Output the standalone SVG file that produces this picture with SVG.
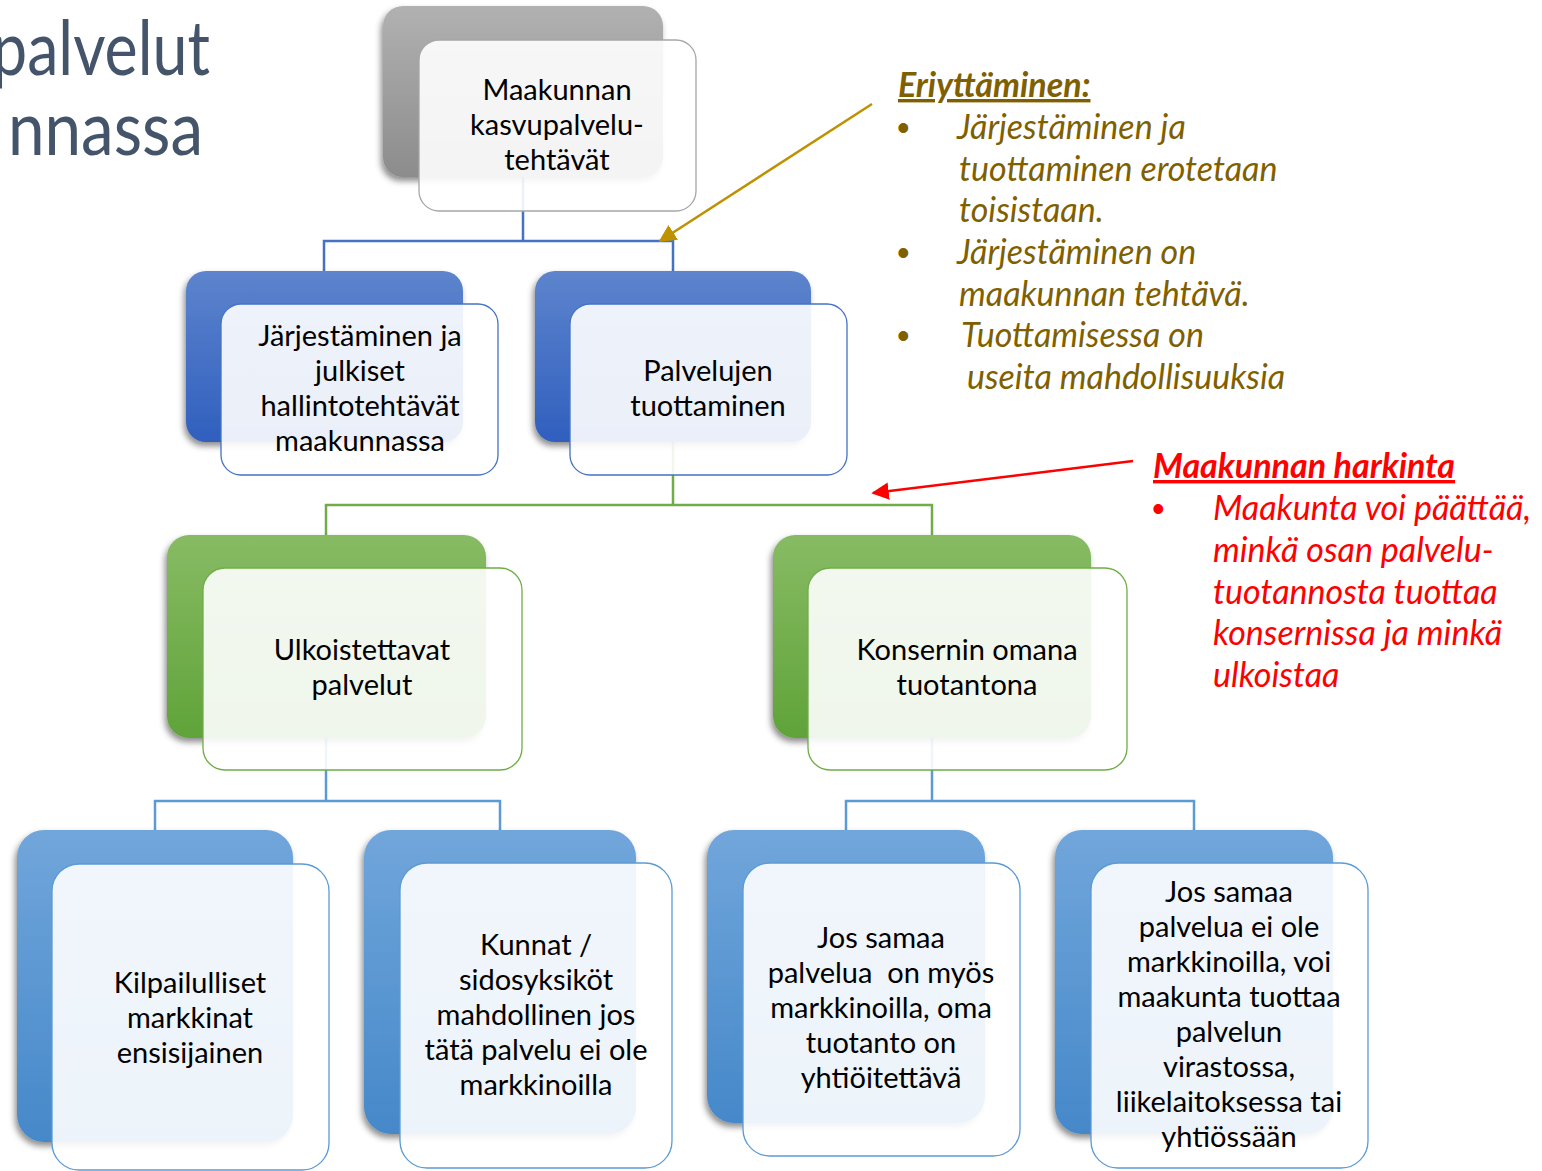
<svg xmlns="http://www.w3.org/2000/svg" width="1542" height="1171" viewBox="0 0 1542 1171">
<defs>
<linearGradient id="gGrey" x1="0" y1="0" x2="0" y2="1"><stop offset="0" stop-color="#b1b1b1"/><stop offset="1" stop-color="#8c8c8c"/></linearGradient>
<linearGradient id="gBlue1" x1="0" y1="0" x2="0" y2="1"><stop offset="0" stop-color="#5d84cd"/><stop offset="1" stop-color="#305fbe"/></linearGradient>
<linearGradient id="gGreen" x1="0" y1="0" x2="0" y2="1"><stop offset="0" stop-color="#87bb64"/><stop offset="1" stop-color="#60a339"/></linearGradient>
<linearGradient id="gBlue2" x1="0" y1="0" x2="0" y2="1"><stop offset="0" stop-color="#71a6db"/><stop offset="1" stop-color="#4588c9"/></linearGradient>
<filter id="sh" x="-10%" y="-10%" width="125%" height="125%"><feDropShadow dx="-2" dy="4" stdDeviation="3" flood-color="#000" flood-opacity="0.45"/></filter>
<marker id="aGold" viewBox="0 0 10 10" refX="9" refY="5" markerWidth="7" markerHeight="7" orient="auto" markerUnits="strokeWidth"><path d="M0,0 L10,5 L0,10 z" fill="#bf9000"/></marker>
<marker id="aRed" viewBox="0 0 10 10" refX="9" refY="5" markerWidth="7" markerHeight="7" orient="auto" markerUnits="strokeWidth"><path d="M0,0 L10,5 L0,10 z" fill="#ff0000"/></marker>
</defs>
<style>
.t{font-family:Lato,"Open Sans","Liberation Sans",sans-serif;font-size:29px;fill:#000;text-anchor:middle}
.fr{fill:#fff;fill-opacity:0.9;stroke-width:1.3}
.c{fill:none;stroke-width:2.5}
.ann{font-family:Lato,"Open Sans","Liberation Sans",sans-serif;font-size:34px;font-style:italic}
.bul{font-family:"Liberation Sans",Arial,sans-serif;font-size:36px}
.hd{font-weight:bold;text-decoration:underline}
.title{font-family:Lato,"Open Sans","Liberation Sans",sans-serif;font-size:76px;fill:#44546a}
</style>
<rect width="1542" height="1171" fill="#fff"/>

<g id="title">
<text class="title" x="-8" y="75" textLength="218" lengthAdjust="spacingAndGlyphs">palvelut</text>
<text class="title" x="8" y="155" textLength="195" lengthAdjust="spacingAndGlyphs">nnassa</text>
</g>

<g id="connectors">
<path class="c" stroke="#4472c4" d="M523,177 V241 M324,271 V241 H673 V271"/>
<path class="c" stroke="#70ad47" d="M673,441 V505 M326,535 V505 H932 V535"/>
<path class="c" stroke="#5b9bd5" d="M326,737 V801 M155,830 V801 H500 V830"/>
<path class="c" stroke="#5b9bd5" d="M932,737 V801 M846,830 V801 H1194 V830"/>
<line x1="872" y1="104" x2="660" y2="241" stroke="#bf9000" stroke-width="2.5" marker-end="url(#aGold)"/>
<line x1="1133" y1="461" x2="873" y2="493" stroke="#ff0000" stroke-width="2.5" marker-end="url(#aRed)"/>
</g>

<g id="n-top">
<rect x="383" y="6" width="280" height="171" rx="20" fill="url(#gGrey)" filter="url(#sh)"/>
<rect class="fr" x="419" y="40" width="277" height="171" rx="20" stroke="#a6a6a6"/>
<text class="t" x="557" y="100">Maakunnan</text>
<text class="t" x="557" y="135">kasvupalvelu-</text>
<text class="t" x="557" y="170">tehtävät</text>
</g>

<g id="n-jarj">
<rect x="186" y="271" width="277" height="171" rx="20" fill="url(#gBlue1)" filter="url(#sh)"/>
<rect class="fr" x="221" y="304" width="277" height="171" rx="20" stroke="#4472c4"/>
<text class="t" x="360" y="346">Järjestäminen ja</text>
<text class="t" x="360" y="381">julkiset</text>
<text class="t" x="360" y="416">hallintotehtävät</text>
<text class="t" x="360" y="451">maakunnassa</text>
</g>

<g id="n-palv">
<rect x="535" y="271" width="276" height="171" rx="20" fill="url(#gBlue1)" filter="url(#sh)"/>
<rect class="fr" x="570" y="304" width="277" height="171" rx="20" stroke="#4472c4"/>
<text class="t" x="708" y="381">Palvelujen</text>
<text class="t" x="708" y="416">tuottaminen</text>
</g>

<g id="n-ulko">
<rect x="167" y="535" width="319" height="203" rx="22" fill="url(#gGreen)" filter="url(#sh)"/>
<rect class="fr" x="203" y="568" width="319" height="202" rx="22" stroke="#70ad47"/>
<text class="t" x="362" y="660">Ulkoistettavat</text>
<text class="t" x="362" y="695">palvelut</text>
</g>

<g id="n-kons">
<rect x="773" y="535" width="318" height="203" rx="22" fill="url(#gGreen)" filter="url(#sh)"/>
<rect class="fr" x="808" y="568" width="319" height="202" rx="22" stroke="#70ad47"/>
<text class="t" x="967" y="660">Konsernin omana</text>
<text class="t" x="967" y="695">tuotantona</text>
</g>

<g id="n-kilp">
<rect x="17" y="830" width="276" height="312" rx="27" fill="url(#gBlue2)" filter="url(#sh)"/>
<rect class="fr" x="52" y="864" width="277" height="306" rx="27" stroke="#5b9bd5"/>
<text class="t" x="190" y="993">Kilpailulliset</text>
<text class="t" x="190" y="1028">markkinat</text>
<text class="t" x="190" y="1063">ensisijainen</text>
</g>

<g id="n-kunnat">
<rect x="364" y="830" width="272" height="304" rx="27" fill="url(#gBlue2)" filter="url(#sh)"/>
<rect class="fr" x="400" y="863" width="272" height="305" rx="27" stroke="#5b9bd5"/>
<text class="t" x="536" y="955">Kunnat /</text>
<text class="t" x="536" y="990">sidosyksiköt</text>
<text class="t" x="536" y="1025">mahdollinen jos</text>
<text class="t" x="536" y="1060">tätä palvelu ei ole</text>
<text class="t" x="536" y="1095">markkinoilla</text>
</g>

<g id="n-jos1">
<rect x="707" y="830" width="278" height="293" rx="27" fill="url(#gBlue2)" filter="url(#sh)"/>
<rect class="fr" x="743" y="863" width="277" height="293" rx="27" stroke="#5b9bd5"/>
<text class="t" x="881" y="948">Jos samaa</text>
<text class="t" x="881" y="983" xml:space="preserve">palvelua  on myös</text>
<text class="t" x="881" y="1018">markkinoilla, oma</text>
<text class="t" x="881" y="1053">tuotanto on</text>
<text class="t" x="881" y="1088">yhtiöitettävä</text>
</g>

<g id="n-jos2">
<rect x="1055" y="830" width="278" height="304" rx="27" fill="url(#gBlue2)" filter="url(#sh)"/>
<rect class="fr" x="1091" y="863" width="277" height="305" rx="27" stroke="#5b9bd5"/>
<text class="t" x="1229" y="902">Jos samaa</text>
<text class="t" x="1229" y="937">palvelua ei ole</text>
<text class="t" x="1229" y="972">markkinoilla, voi</text>
<text class="t" x="1229" y="1007">maakunta tuottaa</text>
<text class="t" x="1229" y="1042">palvelun</text>
<text class="t" x="1229" y="1077">virastossa,</text>
<text class="t" x="1229" y="1112">liikelaitoksessa tai</text>
<text class="t" x="1229" y="1147">yhtiössään</text>
</g>

<g id="ann-eriyt" fill="#7f6000">
<text class="ann hd" x="898" y="97">Eriyttäminen:</text>
<text class="bul" x="897" y="140">•</text>
<text class="ann" x="957" y="139">Järjestäminen ja</text>
<text class="ann" x="959" y="181">tuottaminen erotetaan</text>
<text class="ann" x="959" y="222">toisistaan.</text>
<text class="bul" x="897" y="265">•</text>
<text class="ann" x="957" y="264">Järjestäminen on</text>
<text class="ann" x="959" y="306">maakunnan tehtävä.</text>
<text class="bul" x="897" y="348">•</text>
<text class="ann" x="961" y="347">Tuottamisessa on</text>
<text class="ann" x="967" y="389">useita mahdollisuuksia</text>
</g>

<g id="ann-harkinta" fill="#ff0000">
<text class="ann hd" x="1153" y="478">Maakunnan harkinta</text>
<text class="bul" x="1152" y="521">•</text>
<text class="ann" x="1213" y="520">Maakunta voi päättää,</text>
<text class="ann" x="1213" y="562">minkä osan palvelu-</text>
<text class="ann" x="1213" y="604">tuotannosta tuottaa</text>
<text class="ann" x="1213" y="645">konsernissa ja minkä</text>
<text class="ann" x="1213" y="687">ulkoistaa</text>
</g>
</svg>
